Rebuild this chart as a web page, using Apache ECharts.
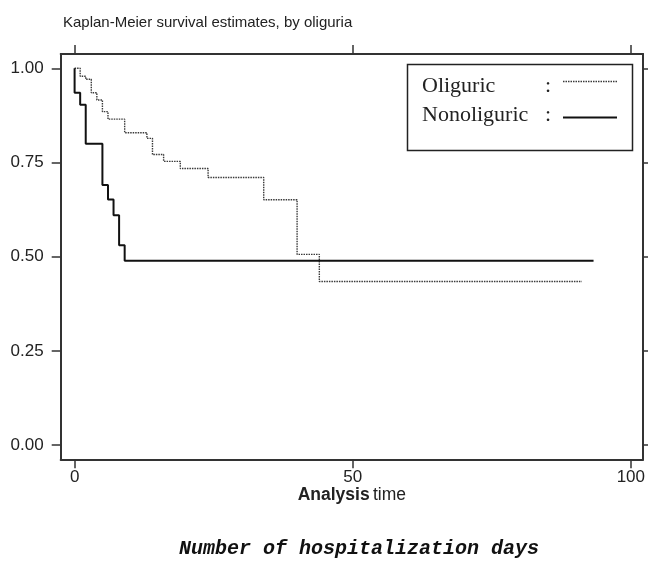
<!DOCTYPE html>
<html>
<head>
<meta charset="utf-8">
<style>
  html, body { margin: 0; padding: 0; background: #fff; }
  #chart { width: 648px; height: 563px; }
</style>
<script src="https://cdn.jsdelivr.net/npm/echarts@6/dist/echarts.min.js"></script>
</head>
<body>
<div id="chart"></div>
<script>
// Kaplan-Meier step points (time, survival)
var oliguricTime = [0, 1, 2, 3, 4, 5, 6, 9, 13, 14, 16, 19, 24, 34, 40, 44, 91.2];
var oliguricSurv = [1.0, 0.979, 0.971, 0.935, 0.916, 0.885, 0.865, 0.829, 0.814, 0.771, 0.753, 0.734, 0.710, 0.651, 0.506, 0.434, 0.434];

var nonoliguricTime = [0, 0, 1, 2, 5, 6, 7, 8, 9, 93.3];
var nonoliguricSurv = [1.0, 0.935, 0.903, 0.80, 0.69, 0.652, 0.61, 0.53, 0.489, 0.489];

var xTicks = [0, 50, 100];
var yTicks = [0, 0.25, 0.5, 0.75, 1];

function pairs (t, s) {
  return t.map(function (v, i) { return [v, s[i]] })
}

var chart = echarts.init(document.getElementById('chart'))

var axisCol = '#333'
var sans = '"Liberation Sans", Arial, sans-serif'
var labelFont = { fontFamily: sans, fontSize: 17, color: '#222' }

var option = {
  animation: false,
  title: {
    text: 'Kaplan-Meier survival estimates, by oliguria',
    left: 58,
    top: 10,
    textStyle: { fontFamily: sans, fontSize: 15, fontWeight: 'normal', color: '#222' }
  },
  grid: { left: 60.7, right: 4.7, top: 54, bottom: 103.7 },
  xAxis: [
    {
      type: 'value',
      position: 'bottom',
      min: -2.5,
      max: 102.2,
      axisLine: { show: true, onZero: false, lineStyle: { color: axisCol, width: 2 } },
      axisTick: { show: true, inside: false, length: 9, customValues: xTicks, lineStyle: { color: axisCol, width: 1.5 } },
      axisLabel: Object.assign({ customValues: xTicks, margin: 10 }, labelFont),
      splitLine: { show: false },
      name: '{b|Analysis} {n|time}',
      nameLocation: 'middle',
      nameGap: 27,
      nameMoveOverlap: false,
      nameTextStyle: {
        rich: {
          b: { fontFamily: sans, fontSize: 17.5, fontWeight: 'bold', color: '#222' },
          n: { fontFamily: sans, fontSize: 17.5, color: '#222' }
        }
      }
    },
    {
      type: 'value',
      position: 'top',
      min: -2.5,
      max: 102.2,
      axisLine: { show: true, onZero: false, lineStyle: { color: axisCol, width: 2 } },
      axisTick: { show: true, inside: false, length: 9, customValues: xTicks, lineStyle: { color: axisCol, width: 1.5 } },
      axisLabel: { show: false },
      splitLine: { show: false }
    }
  ],
  yAxis: [
    {
      type: 'value',
      position: 'left',
      min: -0.038,
      max: 1.038,
      axisLine: { show: true, onZero: false, lineStyle: { color: axisCol, width: 2 } },
      axisTick: { show: true, inside: false, length: 9, customValues: yTicks, lineStyle: { color: axisCol, width: 1.5 } },
      axisLabel: Object.assign({ customValues: yTicks, margin: 17, formatter: function (v) { return v.toFixed(2) } }, labelFont),
      splitLine: { show: false }
    },
    {
      type: 'value',
      position: 'right',
      min: -0.038,
      max: 1.038,
      axisLine: { show: true, onZero: false, lineStyle: { color: axisCol, width: 2 } },
      axisTick: { show: true, inside: false, length: 6, customValues: yTicks, lineStyle: { color: axisCol, width: 1.5 } },
      axisLabel: { show: false },
      splitLine: { show: false }
    }
  ],
  series: [
    {
      name: 'Oliguric',
      type: 'line',
      step: 'end',
      showSymbol: false,
      data: pairs(oliguricTime, oliguricSurv),
      lineStyle: { color: '#3a3a3a', width: 1.4, type: [1.5, 1] }
    },
    {
      name: 'Nonoliguric',
      type: 'line',
      step: 'end',
      showSymbol: false,
      data: pairs(nonoliguricTime, nonoliguricSurv),
      lineStyle: { color: '#111', width: 2 }
    }
  ],
  graphic: [
    // legend box
    { type: 'rect', shape: { x: 407.5, y: 64.5, width: 225, height: 86 }, style: { fill: '#fff', stroke: '#222', lineWidth: 1.5 } },
    { type: 'text', x: 422, y: 86, style: { text: 'Oliguric', font: '22px "Liberation Serif", "Times New Roman", serif', fill: '#222', verticalAlign: 'middle' } },
    { type: 'text', x: 548, y: 86, style: { text: ':', font: '22px "Liberation Serif", "Times New Roman", serif', fill: '#222', align: 'center', verticalAlign: 'middle' } },
    { type: 'line', shape: { x1: 563, y1: 81.5, x2: 617, y2: 81.5 }, style: { stroke: '#3a3a3a', lineWidth: 1.4, lineDash: [1.5, 1] } },
    { type: 'text', x: 422, y: 115, style: { text: 'Nonoliguric', font: '22px "Liberation Serif", "Times New Roman", serif', fill: '#222', verticalAlign: 'middle' } },
    { type: 'text', x: 548, y: 115, style: { text: ':', font: '22px "Liberation Serif", "Times New Roman", serif', fill: '#222', align: 'center', verticalAlign: 'middle' } },
    { type: 'line', shape: { x1: 563, y1: 117.5, x2: 617, y2: 117.5 }, style: { stroke: '#111', lineWidth: 2 } },
    // caption
    { type: 'text', x: 359, y: 549, style: { text: 'Number of hospitalization days', font: 'italic bold 20px "Liberation Mono", "Courier New", monospace', fill: '#111', align: 'center', verticalAlign: 'middle' } }
  ]
}

chart.setOption(option)
</script>
</body>
</html>
